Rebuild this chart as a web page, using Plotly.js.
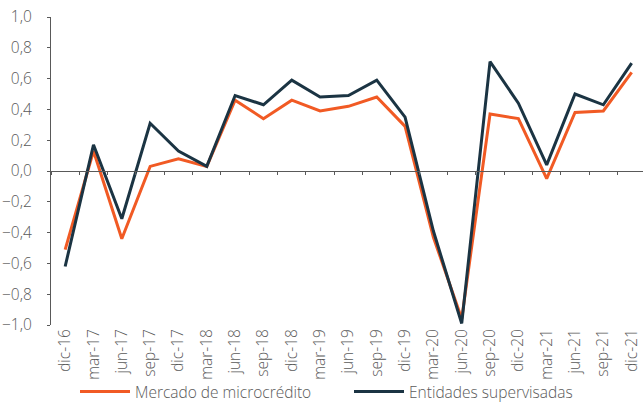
<!DOCTYPE html>
<html>
<head>
<meta charset="utf-8">
<script src="https://cdn.plot.ly/plotly-3.0.1.min.js"></script>
<style>html,body{margin:0;padding:0;background:#fff;}#chart{width:643px;height:404px;}</style>
</head>
<body>
<div id="chart"></div>
<script>
const categories = ["dic-16","mar-17","jun-17","sep-17","dic-17","mar-18","jun-18","sep-18","dic-18","mar-19","jun-19","sep-19","dic-19","mar-20","jun-20","sep-20","dic-20","mar-21","jun-21","sep-21","dic-21"];
const mercado = [-0.51, 0.13, -0.44, 0.03, 0.08, 0.03, 0.46, 0.34, 0.46, 0.39, 0.42, 0.48, 0.29, -0.43, -0.96, 0.37, 0.34, -0.05, 0.38, 0.39, 0.64];
const entidades = [-0.62, 0.17, -0.31, 0.31, 0.13, 0.03, 0.49, 0.43, 0.59, 0.48, 0.49, 0.59, 0.35, -0.39, -0.99, 0.71, 0.44, 0.04, 0.50, 0.43, 0.70];
const yTicks = [-1, -0.8, -0.6, -0.4, -0.2, 0, 0.2, 0.4, 0.6, 0.8, 1];

const font = {family: "Open Sans, sans-serif", size: 15.5, color: "#5a5a5a", weight: 300};
const traces = [
  {x: categories, y: mercado, type: "scatter", mode: "lines", name: "Mercado de microcrédito",
   line: {color: "#F15A24", width: 3}, legend: "legend"},
  {x: categories, y: entidades, type: "scatter", mode: "lines", name: "Entidades supervisadas",
   line: {color: "#1B3443", width: 3}, legend: "legend2"},
  {x: categories, y: entidades, type: "scatter", mode: "lines", xaxis: "x2", showlegend: false,
   hoverinfo: "skip", line: {color: "rgba(0,0,0,0)", width: 0}}
];
const legendBase = {orientation: "h", xref: "container", yref: "container", xanchor: "left",
  y: 0.03, yanchor: "middle", font: font, itemwidth: 50, bgcolor: "rgba(0,0,0,0)"};
const layout = {
  width: 643, height: 404,
  margin: {l: 51, r: 0, t: 17, b: 79},
  paper_bgcolor: "#fff", plot_bgcolor: "#fff",
  font: font,
  separators: ",.",
  showlegend: true,
  xaxis: {type: "category", range: [-0.5, 20.4], showgrid: false, showline: false, zeroline: false,
          ticks: "", tickangle: -90, tickfont: font, fixedrange: true},
  xaxis2: {type: "category", range: [-0.5, 20.4], overlaying: "x", anchor: "free", position: 0.5,
           showgrid: false, showline: true, linecolor: "#595959", linewidth: 1,
           ticks: "outside", tickson: "boundaries", ticklen: 3, tickcolor: "#595959",
           showticklabels: false, zeroline: false},
  yaxis: {range: [-1, 1], tickvals: yTicks, tickformat: ".1f", showgrid: false, zeroline: false,
          showline: true, linecolor: "#595959", linewidth: 1, ticks: "outside", ticklen: 3,
          tickcolor: "#595959", tickfont: font, ticklabelstandoff: 12},
  legend: Object.assign({}, legendBase, {x: 75 / 643}),
  legend2: Object.assign({}, legendBase, {x: 349 / 643})
};
Plotly.newPlot("chart", traces, layout, {displayModeBar: false, staticPlot: true});
</script>
</body>
</html>
